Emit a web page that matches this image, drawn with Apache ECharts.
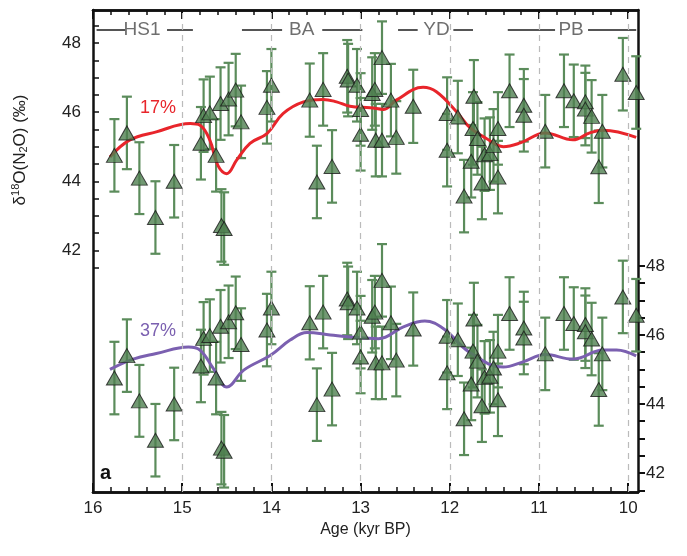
<!DOCTYPE html>
<html><head><meta charset="utf-8">
<script src="https://cdn.jsdelivr.net/npm/echarts@6/dist/echarts.min.js"></script>
<style>html,body{margin:0;padding:0;background:#fff}#c{width:687px;height:556px}</style>
</head><body><div id="c"></div>
<script>
const ages = [15.76,15.62,15.48,15.30,15.09,14.79,14.76,14.69,14.62,14.57,14.56,14.53,14.48,14.40,14.34,14.05,14.00,13.57,13.49,13.42,13.32,13.15,13.14,13.04,13.00,13.00,12.87,12.84,12.83,12.76,12.76,12.66,12.60,12.41,12.03,12.03,11.91,11.84,11.76,11.74,11.73,11.69,11.64,11.61,11.55,11.51,11.46,11.46,11.33,11.17,11.17,10.93,10.72,10.61,10.48,10.48,10.41,10.33,10.29,10.06,9.91];
const d18O = [44.75,45.40,44.09,42.95,44.00,45.10,45.90,45.98,44.75,46.25,42.72,42.63,46.38,46.64,45.72,46.14,46.78,46.35,43.98,46.66,44.43,47.04,46.93,46.78,46.08,45.36,46.54,46.66,45.19,45.19,47.58,46.35,45.27,46.17,45.96,44.90,45.86,43.57,44.58,45.53,46.46,45.24,43.95,44.77,44.80,45.04,44.12,45.53,46.62,46.20,45.91,45.45,46.62,46.33,46.30,46.09,45.88,44.42,45.45,47.10,46.57];
const errs = [1.05,1.05,1.04,1.05,1.05,1.05,1.05,1.05,1.05,1.05,1.05,1.05,1.05,1.05,1.05,1.05,1.05,1.06,1.05,1.05,1.05,1.05,1.05,1.05,1.05,1.05,1.05,1.05,1.05,1.05,1.05,1.05,1.05,1.06,1.05,1.05,1.05,1.05,1.05,1.05,1.05,1.05,1.05,1.05,1.05,1.05,1.05,1.05,1.05,1.05,1.05,1.05,1.05,1.05,1.05,1.05,1.05,1.05,1.05,1.05,1.05];
const fit17Age = [15.81,15.59,15.29,14.91,14.80,14.69,14.60,14.50,14.39,14.24,14.05,13.87,13.64,13.42,13.27,13.12,12.89,12.74,12.60,12.30,12.15,11.92,11.78,11.59,11.40,11.21,10.93,10.62,10.43,10.28,9.91];
const fit17Val = [44.70,45.19,45.43,45.67,45.62,45.19,44.46,44.22,44.61,45.10,45.38,45.96,46.30,46.37,46.30,46.17,46.13,46.08,46.35,46.72,46.59,46.00,45.57,45.24,45.00,45.11,45.40,45.20,45.40,45.48,45.27];
const fit37Age = [15.81,15.55,15.29,14.93,14.80,14.65,14.50,14.31,14.01,13.79,13.60,13.34,13.12,12.80,12.52,12.28,12.07,11.78,11.40,11.18,10.93,10.62,10.28,10.13,9.91];
const fit37Val = [45.00,45.30,45.46,45.65,45.56,45.02,44.49,44.98,45.41,45.85,46.07,46.00,45.94,45.89,46.23,46.40,46.18,45.50,45.07,45.22,45.43,45.30,45.56,45.56,45.39];
const periods = ['HS1','BA','YD','PB'];
const periodCenter = [15.45,13.66,12.15,10.64];
const periodSegs = [[15.96,15.64],[15.17,14.88],[14.33,13.88],[13.43,12.98],[12.58,12.36],[11.96,11.74],[11.35,10.82],[10.45,9.91]];
const xMajor = [16,15,14,13,12,11,10];
const boundaries = [15,14,13,12,11,10];
const leftLabels = [42,44,46,48];
const rightLabels = [42,44,46,48];

const FONT = 'Liberation Sans, Arial, sans-serif';
const xMinor = []; for (let v = 160; v >= 99; v -= 2) xMinor.push(v/10);
const yHalf = []; for (let v = 83; v <= 97; v++) yHalf.push(v/2);
const pts = ages.map((a,i)=>[a,d18O[i],errs[i]]);
const chart = echarts.init(document.getElementById('c'));
const segLine = []; periodSegs.forEach(s=>{segLine.push([s[0],48.38]);segLine.push([s[1],48.38]);segLine.push(null);});

function errSeries(yi){
  return {type:'custom',yAxisIndex:yi,xAxisIndex:0,data:pts,z:2,
    renderItem:(p,api)=>{
      const x=api.value(0),y=api.value(1),e=api.value(2);
      const t=api.coord([x,y+e]),b=api.coord([x,y-e]);
      const st={stroke:'#5b8c5b',lineWidth:2.2};
      return {type:'group',children:[
        {type:'line',shape:{x1:t[0],y1:t[1],x2:b[0],y2:b[1]},style:st},
        {type:'line',shape:{x1:t[0]-5,y1:t[1],x2:t[0]+5,y2:t[1]},style:st},
        {type:'line',shape:{x1:b[0]-5,y1:b[1],x2:b[0]+5,y2:b[1]},style:st}]};
    }};
}
function triSeries(yi){
  return {type:'scatter',yAxisIndex:yi,data:pts.map(p=>[p[0],p[1]]),symbol:'triangle',symbolSize:[16,14],z:4,
    itemStyle:{color:'#4f8050',borderColor:'#1a1a1a',borderWidth:1}};
}
const baseX = {type:'value',min:9.89,max:16,inverse:true,splitLine:{show:false},axisLine:{lineStyle:{color:'#111',width:2.5}}};
chart.setOption({
  animation:false,
  grid:{left:93,right:49,top:10,bottom:64},
  xAxis:[
    Object.assign({},baseX,{position:'bottom',name:'Age (kyr BP)',nameLocation:'middle',nameGap:30,nameTextStyle:{fontFamily:FONT,fontSize:16,color:'#222'},
      axisTick:{inside:true,length:9,lineStyle:{color:'#111',width:2},customValues:xMajor},
      axisLabel:{customValues:xMajor,fontFamily:FONT,fontSize:17,color:'#222',margin:8}}),
    Object.assign({},baseX,{position:'bottom',axisTick:{inside:true,length:5,lineStyle:{color:'#111',width:1.5},customValues:xMinor},axisLabel:{show:false}}),
    Object.assign({},baseX,{position:'top',axisTick:{inside:true,length:9,lineStyle:{color:'#111',width:2},customValues:xMajor},axisLabel:{show:false}}),
    Object.assign({},baseX,{position:'top',axisTick:{inside:true,length:5,lineStyle:{color:'#111',width:1.5},customValues:xMinor},axisLabel:{show:false}})
  ],
  yAxis:[
    {type:'value',min:35,max:48.96,position:'left',splitLine:{show:false},axisLine:{lineStyle:{color:'#111',width:2.5}},
      axisTick:{inside:true,length:6,lineStyle:{color:'#111',width:1.5},customValues:yHalf},
      axisLabel:{customValues:leftLabels,fontFamily:FONT,fontSize:17,color:'#222',margin:12}},
    {type:'value',min:41.45,max:55.41,position:'right',splitLine:{show:false},axisLine:{lineStyle:{color:'#111',width:2.5}},
      axisTick:{inside:false,length:7,lineStyle:{color:'#111',width:2},customValues:yHalf.filter(v=>v<=48)},
      axisLabel:{customValues:rightLabels,fontFamily:FONT,fontSize:17,color:'#222',margin:8}}
  ],
  series:[
    {type:'line',data:boundaries.map(b=>[b,35]),symbol:'none',lineStyle:{width:0},
      markLine:{silent:true,symbol:'none',label:{show:false},lineStyle:{color:'#bbb',type:[6,5],width:1.2},data:boundaries.map(b=>({xAxis:b}))}},
    {type:'line',data:segLine,symbol:'none',connectNulls:false,lineStyle:{color:'#555',width:2}},
    {type:'scatter',data:periods.map((n,i)=>({value:[periodCenter[i],48.38],name:n})),symbolSize:0,
      label:{show:true,position:'inside',formatter:p=>p.name,fontFamily:FONT,fontSize:19,color:'#4a4a4a'}},
    errSeries(0),errSeries(1),
    {type:'line',data:fit17Age.map((a,i)=>[a,fit17Val[i]]),smooth:0.4,symbol:'none',z:3,lineStyle:{color:'#e8252b',width:3}},
    {type:'line',yAxisIndex:1,data:fit37Age.map((a,i)=>[a,fit37Val[i]]),smooth:0.4,symbol:'none',z:3,lineStyle:{color:'#7b60b0',width:3}},
    triSeries(0),triSeries(1)
  ],
  graphic:[
    {type:'text',left:140,top:99,style:{text:'17%',fontFamily:FONT,fontSize:18,fill:'#e8252b'}},
    {type:'text',left:140,top:322,style:{text:'37%',fontFamily:FONT,fontSize:18,fill:'#7b60b0'}},
    {type:'text',left:100,top:463,style:{text:'a',fontFamily:FONT,fontSize:20,fontWeight:'bold',fill:'#111'}},
    {type:'text',x:20,y:150,rotation:Math.PI/2,style:{
      text:'{n|δ}{s|18}{n|O(N}{b|2}{n|O) (‰)}',align:'center',verticalAlign:'middle',
      rich:{n:{fontFamily:FONT,fontSize:17,fill:'#222'},s:{fontFamily:FONT,fontSize:11,fill:'#222',verticalAlign:'top',padding:[0,0,8,0]},
        b:{fontFamily:FONT,fontSize:11,fill:'#222',padding:[8,0,0,0]}}}}
  ]
});
</script></body></html>
